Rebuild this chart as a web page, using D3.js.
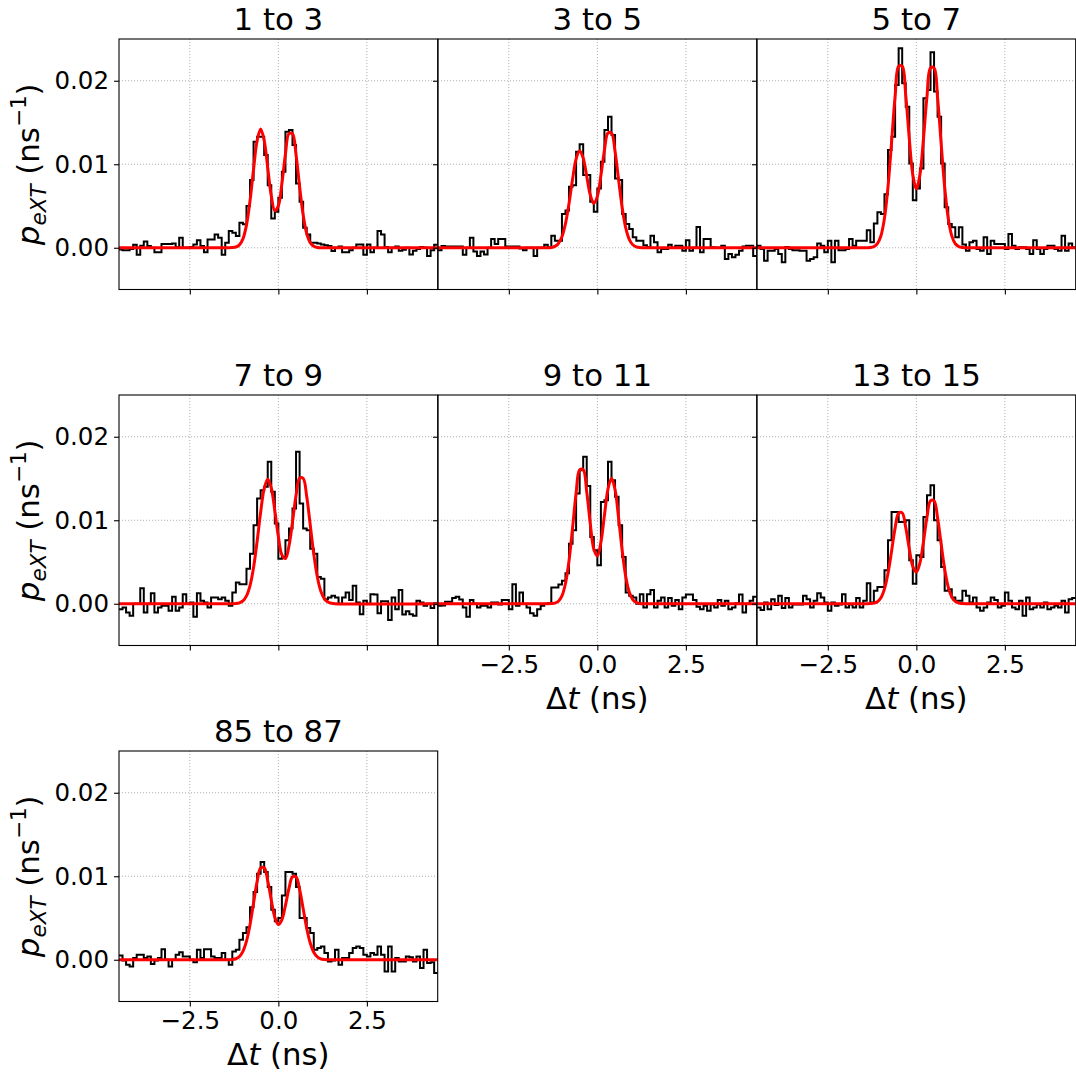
<!DOCTYPE html>
<html>
<head>
<meta charset="utf-8">
<script src="https://cdn.jsdelivr.net/npm/d3@7"></script>
<style>
  body { margin: 0; background: #fff; }
  svg { font-family: "DejaVu Sans", sans-serif; }
</style>
</head>
<body>
<div id="chart"></div>
<script>
// panel titles
var titles = ["1 to 3", "3 to 5", "5 to 7", "7 to 9", "9 to 11", "13 to 15", "85 to 87"];

// histogram bins: 90 bins of 0.1 ns from -4.5 ns, values in 1e-3 ns^-1
var binStart = -4.5;
var binWidth = 0.1;

var hist1 = [-0.2,-0.3,-0.3,-0.15,0.35,-0.85,0.25,0.75,0.2,0.0,
  -0.55,-0.55,0.45,0.45,0.45,0.5,0.1,1.2,0.0,0.0,
  0.1,0.4,0.9,0.2,-0.55,1.0,1.0,1.6,1.2,-0.85,
  0.6,2.0,1.8,1.4,3.0,2.8,5.0,8.1,12.7,13.3,
  13.3,11.1,7.5,3.5,4.3,6.0,9.1,13.9,14.1,12.3,
  7.7,5.5,2.4,1.6,0.6,0.6,0.5,0.4,0.3,0.2,
  -0.4,0.0,0.15,-0.55,-0.55,-0.3,0.0,0.4,0.4,-0.85,
  0.4,-0.55,0.0,2.0,1.6,0.1,-0.55,0.0,0.15,-0.35,
  -0.25,0.0,-0.8,-0.35,-0.15,0.1,0.0,-1.0,-0.3,0.35];

var hist2 = [-0.3,0.2,0.15,0.15,0.15,0.15,0.15,-0.85,0.0,1.2,
  -0.45,-1.0,-0.45,-0.8,0.0,1.05,0.45,1.05,1.05,0.15,
  0.15,0.15,0.15,-0.1,-0.3,0.0,0.0,-1.0,0.0,0.0,
  0.35,0.05,1.45,0.85,0.85,4.05,4.45,7.3,7.5,11.5,
  12.4,8.7,8.7,5.5,4.3,7.1,10.3,14.1,15.7,13.5,
  8.3,8.1,4.05,2.85,2.25,1.25,0.85,0.85,0.3,0.05,
  1.45,0.65,-0.55,-0.15,-0.15,0.35,0.0,0.25,0.25,-0.35,
  0.9,-0.35,0.0,2.5,-0.55,1.05,1.05,0.05,0.0,0.0,
  0.25,-1.35,-0.75,-1.15,-0.85,-0.35,0.15,0.25,0.25,-1.0];

var hist3 = [0.25,-0.15,-1.55,-0.35,-0.35,-0.15,-0.75,-1.75,0.1,-0.15,
  -0.3,-0.3,-0.35,-0.35,-1.55,-1.35,-1.15,0.5,0.25,-0.55,
  0.85,-1.75,0.85,-0.3,-0.3,-0.15,1.05,0.25,0.85,0.85,
  0.85,2.1,0.65,2.9,4.25,4.05,6.4,11.7,13.3,19.5,
  23.9,19.7,16.9,10.1,5.7,7.1,9.5,17.9,18.9,23.4,
  18.7,15.7,10.1,4.85,2.85,2.45,1.25,2.45,0.4,-0.35,
  0.65,0.85,-0.15,-0.35,1.25,-0.75,0.85,0.45,0.45,0.45,
  -0.15,1.65,0.25,-0.15,0.05,0.05,-0.15,-0.75,0.9,-0.15,
  -0.75,-0.15,0.25,0.25,-0.15,-0.35,1.45,-0.35,0.5,0.05];

var hist4 = [-0.65,-0.45,-1.05,-1.45,0.0,0.0,1.85,-1.05,0.0,1.25,
  -1.05,-0.45,-0.25,-0.25,-0.85,0.85,-0.85,-0.45,1.15,0.0,
  0.15,-1.55,1.25,0.35,0.15,-0.45,0.75,0.75,0.55,0.75,
  0.35,-0.25,1.35,2.55,2.35,2.35,4.2,6.0,9.4,12.6,
  13.6,14.0,17.0,13.4,9.6,5.4,5.6,7.6,9.0,11.4,
  18.2,12.0,9.0,8.8,6.6,6.0,3.2,3.0,0.55,0.75,
  0.95,0.75,0.0,0.75,1.35,0.45,2.15,0.15,-1.25,0.35,
  0.0,1.15,1.1,-1.15,0.3,0.3,-1.95,0.75,-0.65,1.65,
  -1.3,-0.9,-1.25,-1.45,0.35,0.15,-0.25,0.0,-0.5,0.05];

var hist5 = [-0.25,-0.2,0.25,0.25,0.7,0.85,0.5,-0.45,-1.55,0.45,
  0.0,-0.45,-0.25,-0.25,-0.45,0.15,0.15,-0.1,0.45,0.45,
  -0.65,2.35,-0.25,1.35,0.0,-0.45,-1.15,-1.45,-0.65,-0.25,
  0.0,0.05,1.95,1.95,2.3,2.75,3.65,7.2,8.8,13.2,
  16.0,17.6,14.1,8.0,6.4,4.6,12.2,12.4,17.0,14.8,
  12.8,9.4,5.6,1.35,0.95,0.75,0.0,1.15,-0.45,1.15,
  1.65,-0.45,0.35,0.75,-0.45,0.7,-0.25,0.45,-0.65,0.75,
  1.1,1.1,0.45,-0.35,-0.65,-0.25,-0.85,-0.1,-0.45,0.45,
  -0.25,0.35,-0.65,-0.45,0.05,1.1,-1.05,0.0,0.35,0.85];

var hist6 = [-0.45,-0.75,0.15,-0.65,0.55,-0.15,0.95,-0.5,0.7,-0.45,
  -0.1,-0.1,-0.1,0.95,0.55,-0.45,0.35,1.25,0.75,0.15,
  -0.85,0.15,-0.25,-0.1,1.15,-0.45,-0.1,-0.45,0.7,-0.45,
  0.35,2.45,0.15,1.55,2.0,2.0,4.0,7.6,11.0,11.0,
  9.8,9.8,10.0,5.2,2.4,5.8,5.6,10.4,13.0,14.2,
  10.0,7.6,4.4,1.55,1.75,0.75,0.35,0.35,1.55,0.95,
  0.15,0.75,-0.45,-0.85,-0.45,0.15,0.75,0.45,-0.45,-0.25,
  1.35,0.35,-0.45,-0.65,0.35,-1.45,0.75,-0.65,-0.45,-0.1,
  -0.45,0.15,-0.65,-0.45,-0.25,-0.45,0.35,-1.05,0.55,0.7];

var hist7 = [0.5,-0.1,-0.6,-0.8,0.2,0.6,0.6,0.2,0.4,-0.5,
  -0.1,0.2,1.25,0.0,-0.8,0.0,0.6,0.9,0.4,0.4,
  0.0,-0.3,1.2,0.2,1.25,1.25,0.4,0.2,0.2,0.8,
  0.0,-0.6,1.0,1.2,2.4,3.2,3.9,6.3,8.1,10.3,
  11.7,10.5,8.7,6.0,4.6,5.0,7.7,10.5,10.5,10.3,
  8.7,5.0,5.0,3.8,3.2,1.2,1.4,1.6,0.8,-0.2,
  -0.1,1.2,-0.6,0.2,0.2,0.8,1.4,1.6,1.4,0.6,
  0.4,0.8,0.6,1.6,0.6,-1.4,1.6,-1.4,0.2,-0.2,
  -0.2,0.4,0.3,-0.2,0.4,-1.0,1.2,-0.4,-0.3,-1.6];

// red fit curves, read at these times (ns), values in 1e-3 ns^-1
var fitX = [-4.5,-1.6,-1.5,-1.4,-1.3,-1.2,-1.1,-1.0,-0.9,-0.8,-0.7,-0.6,-0.5,-0.4,-0.3,-0.2,-0.1,
  0,0.1,0.2,0.3,0.4,0.5,0.6,0.7,0.8,0.9,1.0,1.1,1.2,1.3,1.4,1.5,1.6,4.5];

var fit1 = [0,0,0,0,0.02,0.09,0.35,1.07,2.71,5.61,9.40,12.81,14.21,12.85,9.58,6.22,4.43,
  5.02,7.68,11.19,13.66,13.64,11.10,7.34,3.95,1.72,0.61,0.18,0.04,0.01,0,0,0,0,0];
var fit2 = [0,0,0,0.01,0.04,0.16,0.51,1.32,2.89,5.31,8.20,10.64,11.63,10.74,8.56,6.33,5.30,
  6.15,8.64,11.69,13.75,13.72,11.52,8.13,4.83,2.41,1.01,0.36,0.11,0.03,0.01,0,0,0,0];
var fit3 = [0,0,0,0.01,0.03,0.14,0.49,1.44,3.55,7.33,12.61,18.12,21.72,21.74,18.25,13.09,8.75,
  7.07,8.70,12.99,18.09,21.55,21.53,17.95,12.50,7.26,3.52,1.42,0.48,0.14,0.03,0.01,0,0,0];
var fit4 = [0,0,0,0,0.01,0.03,0.11,0.34,0.94,2.18,4.35,7.46,10.95,13.80,14.92,13.86,11.15,
  8.06,5.85,5.41,6.91,9.80,12.98,15.04,15.02,12.87,9.46,5.97,3.23,1.49,0.59,0.20,0.06,0.01,0];
var fit5 = [0,0,0,0,0.02,0.08,0.30,0.94,2.43,5.15,9.09,13.25,16.03,16.06,13.40,9.59,6.56,
  5.73,7.35,10.58,13.73,15.02,13.65,10.28,6.41,3.30,1.41,0.50,0.15,0.04,0.01,0,0,0,0];
var fit6 = [0,0,0,0,0.02,0.07,0.24,0.72,1.78,3.66,6.30,9.06,10.86,10.88,9.14,6.58,4.48,
  3.80,4.88,7.40,10.35,12.34,12.32,10.28,7.16,4.16,2.02,0.82,0.28,0.08,0.02,0,0,0,0];
var fit7 = [0,0,0,0.01,0.03,0.12,0.38,1.00,2.22,4.20,6.80,9.35,10.99,11.01,9.46,7.14,5.10,
  4.22,4.79,6.51,8.55,9.93,9.91,8.43,6.13,3.79,2.00,0.90,0.34,0.11,0.03,0.01,0,0,0];

// ticks
var xTicks = [-2.5, 0, 2.5];
var xTickLabels = ["\u22122.5", "0.0", "2.5"];
var yTicks = [0, 10, 20];
var yTickLabels = ["0.00", "0.01", "0.02"];

var hists = [hist1, hist2, hist3, hist4, hist5, hist6, hist7];
var fits = [fit1, fit2, fit3, fit4, fit5, fit6, fit7];

// Setup SVG
var width = 1076, height = 1075;
var svg = d3.select("#chart").append("svg")
  .attr("width", width)
  .attr("height", height);

var colLeft = [119, 438, 757];
var rowTop = [39, 395, 751];
var panelW = 318.7;
var panelH = 250.5;
var bigFont = "30.8px";

var edges = d3.range(hists[0].length + 1).map(function (i) {
  return binStart + i * binWidth;
});

hists.forEach(function (hist, i) {
  var row = Math.floor(i / 3);
  var col = i % 3;
  var left = colLeft[col];
  var top = rowTop[row];
  var showXLabels = (i >= 4);
  var showYLabels = (col === 0);

  var x = d3.scaleLinear().domain([-4.5, 4.5]).range([left, left + panelW]);
  var y = d3.scaleLinear().domain([-5, 25]).range([top + panelH, top]);

  var g = svg.append("g");

  // clip to the panel
  g.append("clipPath").attr("id", "clip" + i)
    .append("rect")
    .attr("x", left).attr("y", top)
    .attr("width", panelW).attr("height", panelH);

  // dotted grid
  g.selectAll(".gx").data(xTicks).enter().append("line")
    .attr("x1", function (d) { return x(d); })
    .attr("x2", function (d) { return x(d); })
    .attr("y1", top).attr("y2", top + panelH)
    .attr("stroke", "#b0b0b0").attr("stroke-width", 1)
    .attr("stroke-dasharray", "1.1,1.9");
  g.selectAll(".gy").data(yTicks).enter().append("line")
    .attr("x1", left).attr("x2", left + panelW)
    .attr("y1", function (d) { return y(d); })
    .attr("y2", function (d) { return y(d); })
    .attr("stroke", "#b0b0b0").attr("stroke-width", 1)
    .attr("stroke-dasharray", "1.1,1.9");

  var plot = g.append("g").attr("clip-path", "url(#clip" + i + ")");

  // histogram as steps
  var stepPts = hist.map(function (v, k) { return [edges[k], v]; });
  stepPts.push([edges[hist.length], hist[hist.length - 1]]);
  var stepLine = d3.line()
    .x(function (d) { return x(d[0]); })
    .y(function (d) { return y(d[1]); })
    .curve(d3.curveStepAfter);
  plot.append("path")
    .attr("d", stepLine(stepPts))
    .attr("fill", "none")
    .attr("stroke", "black")
    .attr("stroke-width", 2)
    .attr("stroke-linejoin", "miter");

  // fit curve
  var fitLine = d3.line()
    .x(function (d, k) { return x(fitX[k]); })
    .y(function (d) { return y(d); })
    .curve(d3.curveCatmullRom.alpha(0.5));
  plot.append("path")
    .attr("d", fitLine(fits[i]))
    .attr("fill", "none")
    .attr("stroke", "red")
    .attr("stroke-width", 3);

  // frame
  g.append("rect")
    .attr("x", left).attr("y", top)
    .attr("width", panelW).attr("height", panelH)
    .attr("fill", "none")
    .attr("stroke", "black")
    .attr("stroke-width", 1.1);

  // axes
  var xAxis = d3.axisBottom(x)
    .tickValues(xTicks)
    .tickSize(5)
    .tickPadding(5)
    .tickFormat(function (d, k) { return showXLabels ? xTickLabels[k] : ""; });
  var ax = g.append("g")
    .attr("transform", "translate(0," + (top + panelH) + ")")
    .call(xAxis);
  ax.select(".domain").remove();
  ax.selectAll("line").attr("stroke", "black").attr("stroke-width", 1.1);
  ax.selectAll("text").attr("font-size", "24.5px").attr("fill", "black")
    .attr("font-family", "DejaVu Sans");

  var yAxis = d3.axisLeft(y)
    .tickValues(yTicks)
    .tickSize(5)
    .tickPadding(5)
    .tickFormat(function (d, k) { return showYLabels ? yTickLabels[k] : ""; });
  var ay = g.append("g")
    .attr("transform", "translate(" + left + ",0)")
    .call(yAxis);
  ay.select(".domain").remove();
  ay.selectAll("line").attr("stroke", "black").attr("stroke-width", 1.1);
  ay.selectAll("text").attr("font-size", "24.5px").attr("fill", "black")
    .attr("font-family", "DejaVu Sans");

  // title
  g.append("text")
    .attr("x", left + panelW / 2)
    .attr("y", top - 9)
    .attr("text-anchor", "middle")
    .attr("font-size", bigFont)
    .text(titles[i]);

  // y label
  if (showYLabels) {
    var yl = g.append("text")
      .attr("transform", "translate(39," + (top + panelH / 2) + ") rotate(-90)")
      .attr("text-anchor", "middle")
      .attr("font-size", bigFont);
    yl.append("tspan").attr("font-style", "italic").text("p");
    yl.append("tspan").attr("font-style", "italic").attr("font-size", "21.5px")
      .attr("dy", 6.5).text("eXT");
    yl.append("tspan").attr("dy", -6.5).text("\u00a0(ns");
    yl.append("tspan").attr("font-size", "21.5px").attr("dy", -13).text("\u22121");
    yl.append("tspan").attr("dy", 13).text(")");
  }

  // x label
  if (showXLabels) {
    var xl = g.append("text")
      .attr("x", left + panelW / 2)
      .attr("y", top + panelH + 63)
      .attr("text-anchor", "middle")
      .attr("font-size", bigFont);
    xl.append("tspan").text("\u0394");
    xl.append("tspan").attr("font-style", "italic").text("t");
    xl.append("tspan").text(" (ns)");
  }
});
</script>
</body>
</html>
